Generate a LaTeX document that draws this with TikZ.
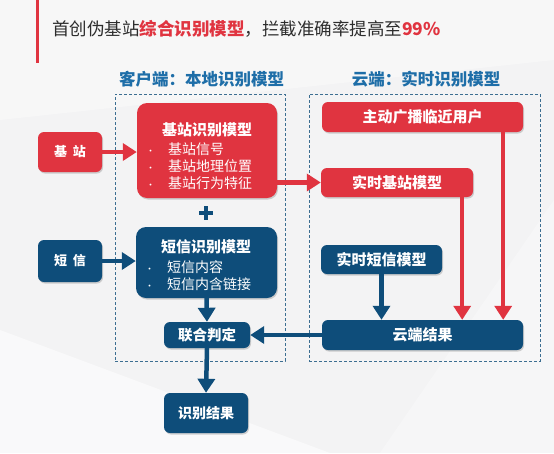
\documentclass[tikz,border=0pt]{standalone}
\usepackage{fontspec}
\setmainfont{Noto Sans CJK SC}
\usetikzlibrary{arrows.meta,shadows,calc}
\definecolor{myred}{RGB}{224,52,64}
\definecolor{myblue}{RGB}{14,77,122}
\definecolor{headblue}{RGB}{30,110,168}
\definecolor{dashc}{RGB}{60,110,145}
\definecolor{titlegray}{RGB}{45,45,45}
\definecolor{bg}{RGB}{243,243,244}
\newcommand{\fsz}[1]{\fontsize{#1}{#1}\selectfont}
\begin{document}
\begin{tikzpicture}[x=1pt,y=-1pt,
  shad/.style={drop shadow={shadow xshift=1pt,shadow yshift=-1.5pt,opacity=0.35}},
  redbox/.style={fill=myred,rounded corners=6pt,text=white,inner sep=0pt,shad,font=\bfseries\fsz{15}},
  bluebox/.style={fill=myblue,rounded corners=6pt,text=white,inner sep=0pt,shad,font=\bfseries\fsz{15}},
  dashbox/.style={draw=dashc,line width=0.9pt,dash pattern=on 3pt off 2pt,inner sep=0pt},
  head/.style={text=headblue,font=\bfseries\fsz{16.5},inner sep=0pt},
  boxtitle/.style={text=white,font=\bfseries\fsz{15},inner sep=0pt},
  bullet/.style={text=white,font=\fsz{14},inner sep=0pt,anchor=west},
  redarr/.style={draw=myred,line width=4.5pt,-{Triangle[length=14pt,width=17pt]}},
  bluearr/.style={draw=myblue,line width=4.5pt,-{Triangle[length=14pt,width=17pt]}}]
\useasboundingbox (0,0) rectangle (554,453);
% background
\fill[bg] (0,0) rectangle (554,453);
\fill[white,opacity=0.55] (0,453) -- (0,330) -- (330,453) -- cycle;
\fill[white,opacity=0.35] (0,0) -- (554,0) -- (554,60) -- (0,120) -- cycle;
\fill[white,opacity=0.3] (554,200) -- (554,453) -- (380,453) -- cycle;
% title
\fill[myred] (36,0) rectangle (39,63);
\node[anchor=west,inner sep=0pt,text=titlegray,font=\fsz{17.5}] (title) at (52,28.5)
  {首创伪基站\textcolor{myred}{\bfseries 综合识别模型}，拦截准确率提高至\textcolor{myred}{\bfseries 99\%}};
% headings and dashed frames
\node[head] (h1) at (201.5,79) {客户端：本地识别模型};
\node[head] (h2) at (426,79) {云端：实时识别模型};
\node[dashbox,minimum width=170pt,minimum height=267pt] (cbox) at (200,227.5) {};
\node[dashbox,minimum width=231pt,minimum height=267pt] (ybox) at (424.5,227.5) {};
% left inputs
\node[redbox,minimum width=64pt,minimum height=40pt,font=\bfseries\fsz{13}] (jz) at (70,152) {基\hspace{0.45em}站};
\node[bluebox,minimum width=64pt,minimum height=42pt,font=\bfseries\fsz{13}] (dx) at (70,261) {短\hspace{0.45em}信};
% client models
\node[redbox,rounded corners=10pt,minimum width=140pt,minimum height=95pt] (jzm) at (207,150.5) {};
\node[boxtitle] (jzmt) at (207,130) {基站识别模型};
\node[bullet] (jzb1) at (146,149) {\makebox[22pt][l]{\fsz{9}•}基站信号};
\node[bullet] (jzb2) at (146,166) {\makebox[22pt][l]{\fsz{9}•}基站地理位置};
\node[bullet] (jzb3) at (146,183) {\makebox[22pt][l]{\fsz{9}•}基站行为特征};
\node[bluebox,rounded corners=10pt,minimum width=141pt,minimum height=71pt] (dxm) at (206.5,262.5) {};
\node[boxtitle] (dxmt) at (206,247) {短信识别模型};
\node[bullet] (dxb1) at (145,267) {\makebox[22pt][l]{\fsz{9}•}短信内容};
\node[bullet] (dxb2) at (145,284) {\makebox[22pt][l]{\fsz{9}•}短信内含链接};
% plus sign
\coordinate (plus) at (206,213);
\draw[myblue,line width=4.5pt] ($(plus)+(-7,0)$) -- ($(plus)+(7,0)$);
\draw[myblue,line width=4.5pt] ($(plus)+(0,-7)$) -- ($(plus)+(0,7)$);
\node[bluebox,minimum width=86pt,minimum height=26pt,font=\bfseries\fsz{14.5}] (lhpd) at (207,335) {联合判定};
\node[bluebox,minimum width=84pt,minimum height=40pt,font=\bfseries\fsz{14}] (sbjg) at (206,413) {识别结果};
% cloud models
\node[redbox,minimum width=201pt,minimum height=30pt] (zdgb) at (422.5,117) {主动广播临近用户};
\node[redbox,minimum width=152pt,minimum height=29pt] (ssjz) at (397,182.5) {实时基站模型};
\node[bluebox,minimum width=121pt,minimum height=29pt] (ssdx) at (381.5,259.5) {实时短信模型};
\node[bluebox,minimum width=201pt,minimum height=30pt] (ydjg) at (422.5,335) {云端结果};
% connectors
\draw[redarr] (jz.east) -- (jz.east -| jzm.west);
\draw[bluearr] (dx.east) -- (dx.east -| dxm.west);
\draw[redarr] (ssjz.west -| jzm.east) -- (ssjz.west);
\draw[bluearr] (dxm.south) -- (lhpd.north);
\draw[bluearr] (ydjg.west) -- (lhpd.east);
\draw[bluearr] (lhpd.south) -- (sbjg.north);
\draw[bluearr] (ssdx.south) -- (ssdx.south |- ydjg.north);
\coordinate (p1) at ([xshift=-11pt]ssjz.south east);
\coordinate (p2) at ([xshift=-20pt]zdgb.south east);
\draw[redarr] (p1) -- (p1 |- ydjg.north);
\draw[redarr] (p2) -- (p2 |- ydjg.north);
\end{tikzpicture}
\end{document}
